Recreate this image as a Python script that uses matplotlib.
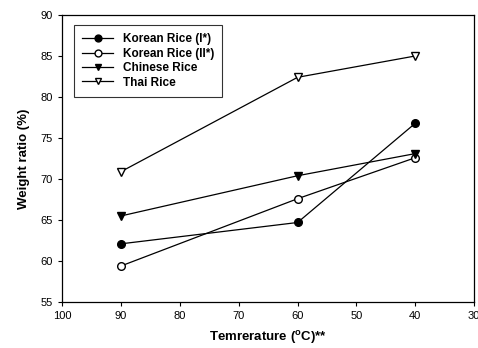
import matplotlib
matplotlib.use("Agg")
import matplotlib.pyplot as plt

plt.rcParams['font.family'] = ['Liberation Sans', 'DejaVu Sans']
plt.rcParams['mathtext.fontset'] = 'custom'
plt.rcParams['mathtext.rm'] = 'Liberation Sans'
plt.rcParams['mathtext.bf'] = 'Liberation Sans:bold'

temps = [90, 60, 40]
korean1 = [62.1, 64.7, 76.8]
korean2 = [59.4, 67.6, 72.6]
chinese = [65.5, 70.4, 73.1]
thai = [70.9, 82.4, 85.0]
labels = ['Korean Rice (I*)', 'Korean Rice (II*)', 'Chinese Rice', 'Thai Rice']

fig = plt.figure(figsize=(4.78, 3.48), dpi=100)
ax = fig.add_axes([0.130, 0.132, 0.862, 0.825])

kw = dict(color='black', lw=0.9, ms=5.5)
ax.plot(temps, korean1, marker='o', mfc='black', label=labels[0], **kw)
ax.plot(temps, korean2, marker='o', mfc='white', label=labels[1], **kw)
ax.plot(temps, chinese, marker='v', mfc='black', label=labels[2], **kw)
ax.plot(temps, thai, marker='v', mfc='white', label=labels[3], **kw)

ax.set_xlim(100, 30)
ax.set_ylim(55, 90)
ax.set_xticks([100, 90, 80, 70, 60, 50, 40, 30])
ax.set_yticks([55, 60, 65, 70, 75, 80, 85, 90])
ax.tick_params(direction='out', length=3, width=0.8, labelsize=8, top=False, right=False)
for s in ax.spines.values():
    s.set_linewidth(0.9)

ax.set_xlabel(r'Temrerature ($\mathbf{^{o}}$C)**', fontsize=9.5, fontweight='bold', labelpad=6)
ax.set_ylabel('Weight ratio (%)', fontsize=9.5, fontweight='bold', labelpad=8)

leg = ax.legend(loc='upper left', bbox_to_anchor=(0.015, 0.985),
                frameon=True, fancybox=False, edgecolor='black',
                handlelength=2.6, labelspacing=0.2, borderpad=0.7,
                markerscale=0.9, prop={'weight': 'bold', 'size': 8.5})
leg.get_frame().set_linewidth(0.8)

fig.savefig('out.png', dpi=100)
